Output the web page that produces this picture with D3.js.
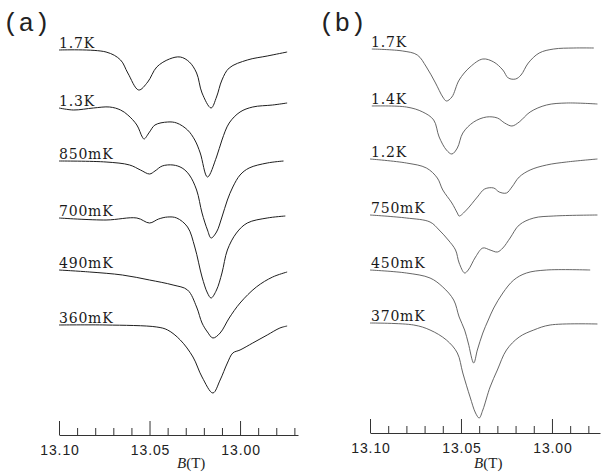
<!DOCTYPE html>
<html><head><meta charset="utf-8">
<script src="https://cdn.jsdelivr.net/npm/d3@7"></script>
<style>
body{margin:0;background:#fff;}
svg{display:block;}
</style></head>
<body>
<svg id="chart" width="602" height="472"></svg>
<script>
// ---------- DATA ----------
const panelLabels = ["(a)", "(b)"];
const majorTicks = [13.10, 13.05, 13.00];
const minorTicksA = [13.09,13.08,13.07,13.06,13.04,13.03,13.02,13.01,12.99,12.98,12.97];
const minorTicksB = [13.09,13.08,13.07,13.06,13.04,13.03,13.02,13.01,12.99,12.98];
const axisTitle = "(T)";

const tempsA = ["1.7K", "1.3K", "850mK", "700mK", "490mK", "360mK"];
const offsetsA = [0, -5.8, -11.1, -16.8, -22.0, -27.5];
const tempsB = ["1.7K", "1.4K", "1.2K", "750mK", "450mK", "370mK"];
const offsetsB = [0, -5.7, -11.0, -16.6, -22.1, -27.4];

// panel (a) traces: [B (T), signal (a.u.)]
const a17K = [[13.100,0],[13.074,-0.2],[13.066,-1.0],[13.062,-2.3],[13.056,-4.0],[13.051,-3.2],[13.046,-1.7],[13.039,-0.9],[13.033,-0.7],[13.028,-1.2],[13.024,-2.3],[13.021,-4.3],[13.016,-5.8],[13.013,-4.7],[13.010,-3.0],[13.006,-1.8],[12.996,-1.0],[12.985,-0.6],[12.974,-0.2]];
const a13K = [[13.100,0],[13.092,-0.2],[13.081,0],[13.072,0.1],[13.066,-0.2],[13.062,-0.7],[13.057,-1.7],[13.054,-2.9],[13.053,-3.1],[13.050,-2.4],[13.047,-1.7],[13.040,-1.4],[13.035,-1.5],[13.029,-2.2],[13.025,-3.2],[13.022,-4.5],[13.018,-6.9],[13.013,-4.9],[13.010,-3.2],[13.006,-1.5],[13.000,-0.4],[12.993,0.1],[12.982,0.3],[12.974,0.5]];
const a850mK = [[13.100,0],[13.074,-0.1],[13.061,-0.4],[13.055,-0.9],[13.050,-1.3],[13.047,-1.0],[13.043,-0.5],[13.037,-0.4],[13.032,-0.7],[13.028,-1.4],[13.024,-2.9],[13.021,-5.2],[13.018,-6.9],[13.016,-7.7],[13.013,-7.1],[13.010,-5.6],[13.007,-3.9],[13.004,-2.6],[13.000,-1.4],[12.995,-0.7],[12.985,-0.2],[12.976,0]];
const a700mK = [[13.100,0],[13.074,-0.2],[13.057,0],[13.050,-0.5],[13.045,-0.1],[13.040,0.1],[13.035,0],[13.029,-0.9],[13.025,-2.9],[13.021,-5.9],[13.018,-7.5],[13.016,-8.0],[13.013,-7.2],[13.010,-5.5],[13.007,-3.2],[13.002,-1.5],[12.996,-0.5],[12.985,0],[12.975,0.2]];
const a490mK = [[13.100,0],[13.083,-0.2],[13.065,-0.5],[13.050,-1.0],[13.037,-1.5],[13.029,-2.0],[13.024,-3.7],[13.021,-5.3],[13.018,-6.2],[13.015,-6.8],[13.011,-6.3],[13.006,-4.8],[13.000,-3.3],[12.991,-1.7],[12.982,-0.7],[12.974,-0.2]];
const a360mK = [[13.100,0],[13.074,0],[13.046,-0.2],[13.040,-0.5],[13.033,-1.5],[13.026,-3.2],[13.021,-5.2],[13.015,-6.8],[13.011,-5.5],[13.007,-3.8],[13.004,-2.8],[13.000,-2.5],[12.993,-1.8],[12.985,-1.0],[12.978,-0.3],[12.974,-0.1]];

// panel (b) traces
const b17K = [[13.099,0],[13.082,-0.2],[13.074,-0.6],[13.069,-1.8],[13.064,-3.4],[13.060,-4.8],[13.058,-5.2],[13.055,-4.8],[13.051,-3.1],[13.045,-1.8],[13.038,-1.0],[13.032,-1.3],[13.027,-2.1],[13.024,-2.9],[13.020,-3.0],[13.017,-2.6],[13.013,-1.4],[13.007,-0.4],[12.999,0],[12.988,0.1],[12.977,0.1]];
const b14K = [[13.099,0],[13.080,-0.1],[13.071,-0.6],[13.065,-1.4],[13.062,-3.1],[13.058,-4.4],[13.055,-4.8],[13.052,-4.2],[13.049,-2.7],[13.043,-1.6],[13.036,-1.1],[13.030,-1.2],[13.026,-1.7],[13.022,-2.0],[13.018,-1.6],[13.012,-0.6],[13.003,0.1],[12.992,0.3],[12.975,0.2]];
const b12K = [[13.100,0],[13.080,-0.4],[13.069,-0.9],[13.063,-1.9],[13.060,-3.1],[13.055,-4.4],[13.052,-5.4],[13.051,-5.7],[13.047,-5.1],[13.041,-3.8],[13.037,-3.0],[13.032,-2.9],[13.029,-3.3],[13.025,-3.4],[13.022,-2.8],[13.018,-1.8],[13.012,-1.1],[13.003,-0.6],[12.992,-0.3],[12.975,0]];
const b750mK = [[13.100,0],[13.080,-0.3],[13.067,-0.7],[13.062,-1.5],[13.057,-2.5],[13.053,-3.5],[13.051,-4.8],[13.048,-5.8],[13.046,-5.5],[13.042,-4.2],[13.038,-3.3],[13.034,-3.5],[13.030,-3.7],[13.027,-3.3],[13.023,-2.3],[13.018,-1.0],[13.010,-0.3],[12.999,-0.1],[12.975,0]];
const b450mK = [[13.100,0],[13.080,-0.3],[13.067,-0.8],[13.060,-1.7],[13.054,-3.0],[13.051,-4.7],[13.048,-6.0],[13.046,-7.3],[13.043,-9.3],[13.041,-8.0],[13.038,-6.3],[13.035,-5.0],[13.032,-3.8],[13.027,-2.3],[13.021,-1.0],[13.014,-0.3],[13.003,0],[12.979,0]];
const b370mK = [[13.100,0],[13.076,-0.2],[13.067,-0.7],[13.058,-1.7],[13.052,-3.0],[13.049,-5.0],[13.045,-7.4],[13.042,-9.0],[13.040,-9.5],[13.038,-8.7],[13.034,-6.4],[13.030,-4.7],[13.025,-2.7],[13.018,-1.4],[13.010,-0.7],[13.001,-0.2],[12.975,-0.1]];

const tracesA = [a17K, a13K, a850mK, a700mK, a490mK, a360mK];
const tracesB = [b17K, b14K, b12K, b750mK, b450mK, b370mK];

// ---------- LAYOUT ----------
const svg = d3.select("#chart");
const panels = [
  {label: panelLabels[0], labelX: 3, xDomain:[13.10,12.968], xRange:[59,298], axisY:435,
   yRange:[50,350], temps:tempsA, offsets:offsetsA, traces:tracesA, minor:minorTicksA,
   color:"#1e1e1e", width:1.0, textX:59, titleB:13.027},
  {label: panelLabels[1], labelX: 319, xDomain:[13.10,12.9736], xRange:[370,600], axisY:433,
   yRange:[49,349], temps:tempsB, offsets:offsetsB, traces:tracesB, minor:minorTicksB,
   color:"#555", width:0.9, textX:371, titleB:13.035}
];

panels.forEach(p => {
  const x = d3.scaleLinear().domain(p.xDomain).range(p.xRange);
  const y = d3.scaleLinear().domain([0,-30]).range(p.yRange);
  const g = svg.append("g");

  // panel label
  g.append("text").attr("x", p.labelX).attr("y", 31)
    .attr("font-family", "Liberation Mono, DejaVu Sans Mono, monospace")
    .attr("font-size", 26).attr("fill", "#222").text(p.label);

  // traces
  p.traces.forEach((tr, i) => {
    const off = p.offsets[i];
    const line = d3.line()
      .x(d => x(d[0]))
      .y(d => y(d[1] + off))
      .curve(d3.curveCatmullRom.alpha(0.5));
    g.append("path").datum(tr).attr("d", line)
      .attr("fill", "none").attr("stroke", p.color)
      .attr("stroke-width", p.width).attr("stroke-linejoin", "round");
    g.append("text").attr("x", p.textX).attr("y", y(off) - 2.5)
      .attr("font-family", "DejaVu Serif, serif").attr("font-size", 14)
      .attr("letter-spacing", "0.8px")
      .attr("fill", "#1a1a1a").text(p.temps[i]);
  });

  // axis: minor ticks
  const minorAxis = d3.axisBottom(x).tickValues(p.minor)
    .tickSizeInner(-7).tickSizeOuter(0).tickFormat("");
  const ga = g.append("g").attr("transform", `translate(0,${p.axisY})`).call(minorAxis);
  // major ticks with labels
  const majorAxis = d3.axisBottom(x).tickValues(majorTicks)
    .tickSizeInner(-14).tickSizeOuter(0).tickPadding(10).tickFormat(d3.format(".2f"));
  const gm = g.append("g").attr("transform", `translate(0,${p.axisY})`).call(majorAxis);
  gm.select(".domain").remove();
  [ga, gm].forEach(s => {
    s.selectAll("path,line").attr("stroke", "#333").attr("stroke-width", 1);
  });
  gm.selectAll("text").attr("font-family", "Liberation Sans, Arial, sans-serif")
    .attr("font-size", 14).attr("letter-spacing", "0.9px").attr("fill", "#222")
    .attr("dx", "0.5px");

  // axis title B(T)
  const t = g.append("text").attr("x", x(p.titleB)).attr("y", 468)
    .attr("text-anchor", "middle").attr("font-family", "Liberation Serif, serif")
    .attr("font-size", 15).attr("fill", "#222");
  t.append("tspan").attr("font-style", "italic").text("B");
  t.append("tspan").text(axisTitle);
});
</script>
</body></html>
